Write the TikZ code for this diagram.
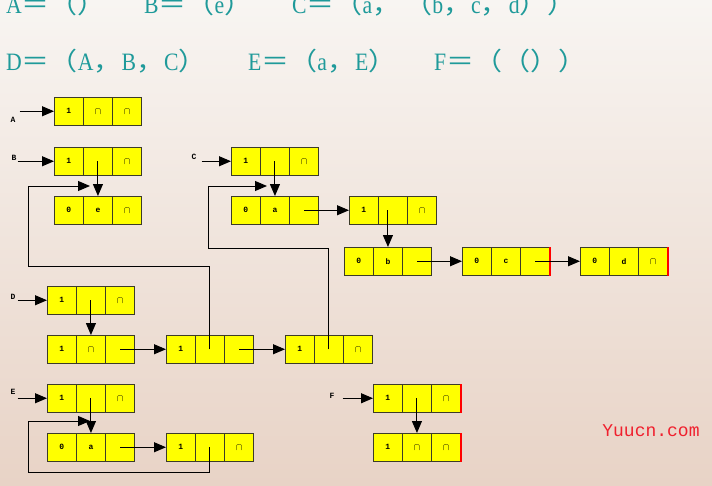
\documentclass[tikz,border=0pt]{standalone}
\usepackage{fontspec}
\setmainfont{Liberation Serif}
\newfontfamily\titlefont[FakeStretch=0.87]{Liberation Serif}
\newfontfamily\cjk[FakeStretch=1.12]{Noto Sans CJK SC}
\newfontfamily\cellfont{Liberation Mono}
\usetikzlibrary{arrows.meta,positioning}
\definecolor{celda}{HTML}{FFFF00}
\definecolor{borde}{HTML}{3C3C28}
\definecolor{titulo}{HTML}{1F9A9A}
\definecolor{marca}{HTML}{F0202E}
\definecolor{fondoarriba}{HTML}{F8F5F2}
\definecolor{fondoabajo}{HTML}{E8D3C6}
% one list node: three cells side by side
\newcommand{\glnode}[5]{%
  \node[cell, anchor=north west] (#1-1) at (#2) {#3};
  \node[cell, right=0pt of #1-1] (#1-2) {#4};
  \node[cell, right=0pt of #1-2] (#1-3) {#5};}
\newcommand{\nil}{{\fontsize{10}{10}\selectfont$\cap$}}

\begin{document}
\begin{tikzpicture}[
          x=1pt, y=-1pt,
          cell/.style={draw=borde, fill=celda, line width=0.9pt, inner sep=0pt, outer sep=0pt,
                       minimum width=29.3pt, minimum height=28.5pt,
                       font=\cellfont\bfseries\fontsize{8}{8}\selectfont},
          lab/.style={inner sep=0pt, font=\cellfont\bfseries\fontsize{8}{8}\selectfont},
          ttl/.style={anchor=base west, inner sep=0pt, text=titulo,
                      font=\titlefont\fontsize{25}{25}\selectfont},
          ptr/.style={-{Triangle[length=12pt,width=10pt]}, line width=1pt, draw=black},
          redge/.style={draw=red, line width=1.2pt}
        ]
        \useasboundingbox (0,0) rectangle (712,485);
        \clip (0,0) rectangle (712,485);
        \shade[top color=fondoarriba, bottom color=fondoabajo] (0,0) rectangle (712,485);

        % titles
        \node[ttl] (t1) at (6,13) {A{\cjk ＝（）}};
        \node[ttl] (t2) at (144,13) {B{\cjk ＝（}e{\cjk ）}};
        \node[ttl] (t3) at (292,13) {C{\cjk ＝（}a{\cjk ，}\hspace{4pt}{\cjk （}b{\cjk ，}c{\cjk ，}d{\cjk ））}};
        \node[ttl] (t4) at (6,70) {D{\cjk ＝（}A{\cjk ，}B{\cjk ，}C{\cjk ）}};
        \node[ttl] (t5) at (248,70) {E{\cjk ＝（}a{\cjk ，}E{\cjk ）}};
        \node[ttl] (t6) at (434,70) {F{\cjk ＝（（））}};

        % list nodes
        \glnode{A}{54,97}{1}{\nil}{\nil}
        \glnode{B}{54,147}{1}{}{\nil}
        \glnode{B1}{54,196}{0}{e}{\nil}
        \glnode{C}{231,147}{1}{}{\nil}
        \glnode{C1}{231,196}{0}{a}{}
        \glnode{C2}{349,196}{1}{}{\nil}
        \glnode{C3}{344,247}{0}{b}{}
        \glnode{C4}{462,247}{0}{c}{}
        \glnode{C5}{580,247}{0}{d}{\nil}
        \glnode{D}{47,286}{1}{}{\nil}
        \glnode{D1}{47,335}{1}{\nil}{}
        \glnode{D2}{166,335}{1}{}{}
        \glnode{D3}{285,335}{1}{}{\nil}
        \glnode{E}{47,384}{1}{}{\nil}
        \glnode{E1}{47,433}{0}{a}{}
        \glnode{E2}{166,433}{1}{}{\nil}
        \glnode{F}{373,384}{1}{}{\nil}
        \glnode{F1}{373,433}{1}{\nil}{\nil}
        \foreach \n in {C4,C5,F,F1}
          \draw[redge] (\n-3.north east) -- (\n-3.south east);

        % head labels
        \node[lab] (lA) at (13,120) {A};
        \node[lab] (lB) at (14,158) {B};
        \node[lab] (lC) at (194,157) {C};
        \node[lab] (lD) at (13,297) {D};
        \node[lab] (lE) at (13,392) {E};
        \node[lab] (lF) at (332,396) {F};
        \draw[ptr] (lA.east |- A-1.west) ++(4,0) -- (A-1.west);
        \draw[ptr] (lB.east |- B-1.west) ++(1,0) -- (B-1.west);
        \draw[ptr] (lC.east |- C-1.west) ++(5,0) -- (C-1.west);
        \draw[ptr] (lD.east |- D-1.west) ++(2,0) -- (D-1.west);
        \draw[ptr] (lE.east |- E-1.west) ++(2,0) -- (E-1.west);
        \draw[ptr] (lF.east |- F-1.west) ++(8,0) -- (F-1.west);

        % pointers
        \draw[ptr] (B-2.center) -- (B1-2.north);
        \draw[ptr] (C-2.center) -- (C1-2.north);
        \draw[ptr] (C1-3.center) -- (C2-1.west);
        \draw[ptr] (C3-2.north |- C2-2.center) -- (C3-2.north);
        \draw[ptr] (C3-3.center) -- (C4-1.west);
        \draw[ptr] (C4-3.center) -- (C5-1.west);
        \draw[ptr] (D-2.center) -- (D1-2.north);
        \draw[ptr] (D1-3.center) -- (D2-1.west);
        \draw[ptr] (D2-3.center) -- (D3-1.west);
        \draw[ptr] (E-2.center) -- (E1-2.north);
        \draw[ptr] (E1-3.center) -- (E2-1.west);
        \draw[ptr] (F-2.center) -- (F1-2.north);

        % shared sublists
        \coordinate (hookB) at (90,186);
        \coordinate (hookC) at (267,186);
        \coordinate (hookE) at (90,421);
        \draw[ptr] (D2-2.center) |- (28,266) |- (hookB);
        \draw[ptr] (D3-2.center) |- (208,248) |- (hookC);
        \draw[ptr] (E2-2.center) |- (28,472) |- (hookE);

        \node[text=marca, font=\cellfont\fontsize{18}{18}\selectfont] (wm) at (651,431) {Yuucn.com};
      \end{tikzpicture}
\end{document}
